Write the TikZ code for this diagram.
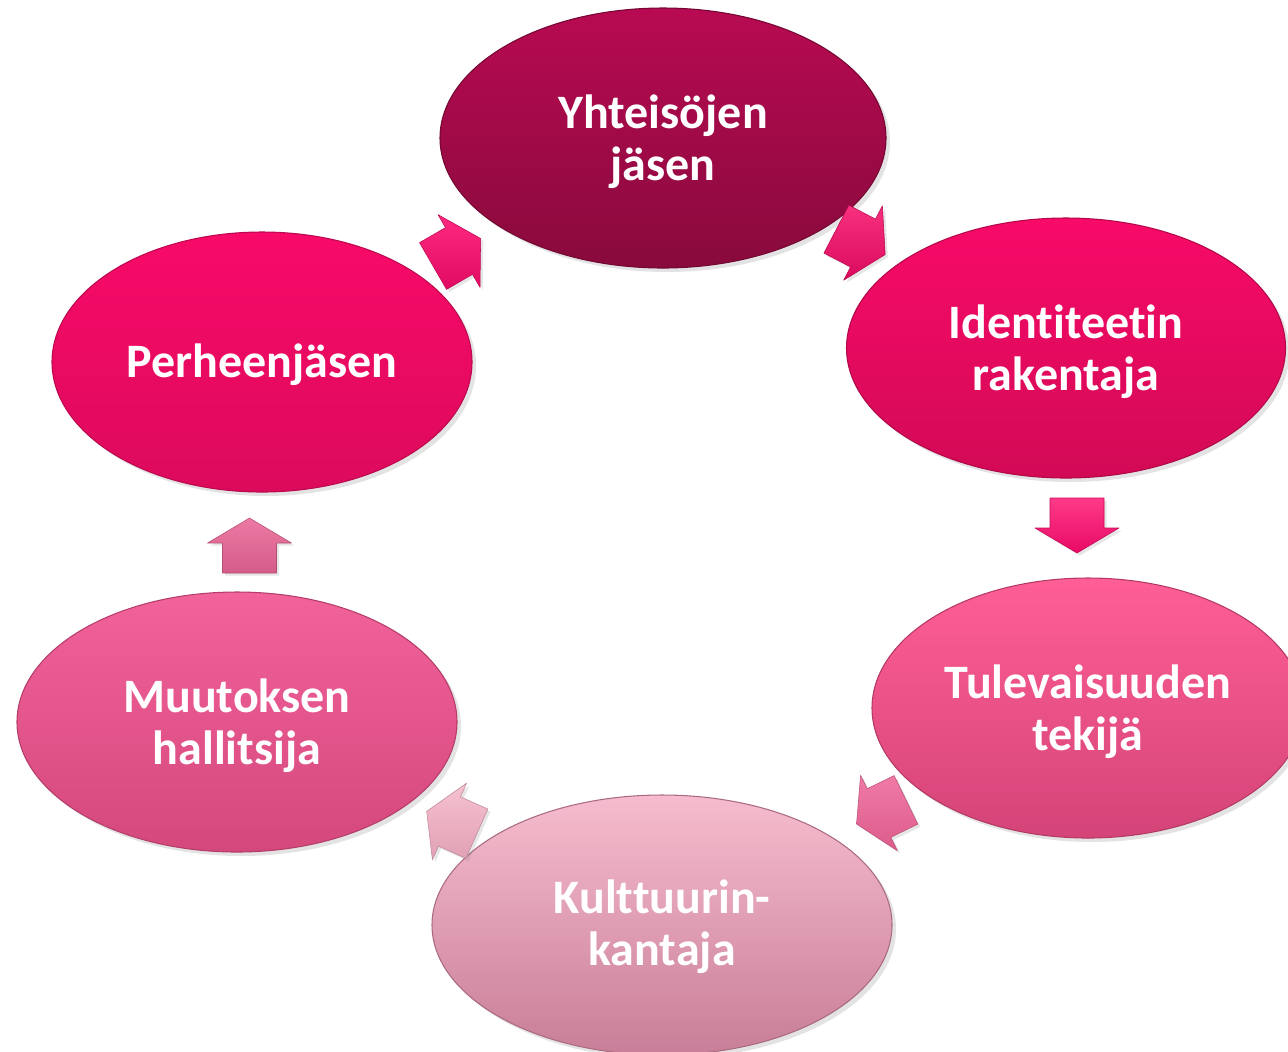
\documentclass[tikz,border=0pt]{standalone}
\usepackage{fontspec}
\setmainfont{Carlito}[Ligatures=NoCommon]
\usetikzlibrary{shapes.geometric,shadows}
\definecolor{cAtop}{HTML}{B80A52}\definecolor{cAbot}{HTML}{880A3C}
\definecolor{cBtop}{HTML}{F80A68}\definecolor{cBbot}{HTML}{D20A56}
\definecolor{cCtop}{HTML}{FF5E96}\definecolor{cCbot}{HTML}{D44478}
\definecolor{cDtop}{HTML}{F6BCCE}\definecolor{cDbot}{HTML}{C87E98}
\definecolor{cEtop}{HTML}{F2629B}\definecolor{cEbot}{HTML}{D4487C}
\definecolor{cFtop}{HTML}{F80A68}\definecolor{cFbot}{HTML}{DC0A5C}
\definecolor{aAtop}{HTML}{FF2A80}\definecolor{aAbot}{HTML}{E00A62}
\definecolor{aBtop}{HTML}{F8307E}\definecolor{aBbot}{HTML}{DA0A5E}
\definecolor{aCtop}{HTML}{FF3A88}\definecolor{aCbot}{HTML}{E80A66}
\definecolor{aDtop}{HTML}{F07AA6}\definecolor{aDbot}{HTML}{DC5C8C}
\definecolor{aEtop}{HTML}{F6C2D0}\definecolor{aEbot}{HTML}{E0A0B4}
\definecolor{aFtop}{HTML}{EC7AA4}\definecolor{aFbot}{HTML}{D45C88}
\newcommand\blockarrow[5]{%
  \shade[shift={(#1,#2)},rotate=#3,top color=#4,bottom color=#5,
    draw=#5!85!black,line width=0.4pt,line join=round,
    drop shadow={shadow xshift=2pt,shadow yshift=-2pt,opacity=0.2}]
    (-30,-27) -- (0,-27) -- (0,-42) -- (25,0) -- (0,42) -- (0,27) -- (-30,27) -- cycle;}
\begin{document}
\begin{tikzpicture}[x=0.75pt,y=-0.75pt,
  bubble/.style n args={4}{ellipse,inner sep=0pt,
    minimum width=#1*0.75pt,minimum height=#2*0.75pt,
    top color=#3,bottom color=#4,draw=#4!85!black,line width=0.8pt,
    drop shadow={shadow xshift=3pt,shadow yshift=-3pt,opacity=0.22}},
  txt/.style={text=white,align=center,inner sep=0pt,
    font=\bfseries\fontsize{36}{39}\selectfont}]
\path[use as bounding box,clip] (0,0) rectangle (1288,1051);
\node[bubble={446}{260}{cAtop}{cAbot}] (yht) at (663,138) {};
\node[bubble={439}{260}{cBtop}{cBbot}] (ide) at (1066,348) {};
\node[bubble={432}{260}{cCtop}{cCbot}] (tul) at (1088,708) {};
\node[bubble={460}{260}{cDtop}{cDbot}] (kul) at (662,925) {};
\node[bubble={440}{260}{cEtop}{cEbot}] (muu) at (237,722) {};
\node[bubble={420}{260}{cFtop}{cFbot}] (per) at (262,362) {};
\node[txt] (yhtT) at ([yshift=-3pt]yht.center) {Yhteisöjen\\jäsen};
\node[txt] (ideT) at ([yshift=-3pt]ide.center) {Identiteetin\\rakentaja};
\node[txt] (tulT) at ([yshift=-3pt]tul.center) {Tulevaisuuden\\tekijä};
\node[txt] (kulT) at ([yshift=-1.5pt]kul.center) {Kulttuurin-\\kantaja};
\node[txt] (muuT) at ([yshift=-3pt]muu.center) {Muutoksen\\hallitsija};
\node[txt] (perT) at ([yshift=-2pt]per.center) {Perheenjäsen};
\blockarrow{459}{251}{30}{aAtop}{aAbot}
\blockarrow{863}{243}{-27.5}{aBtop}{aBbot}
\blockarrow{1077}{528}{-90}{aCtop}{aCbot}
\blockarrow{879}{813}{-154}{aDtop}{aDbot}
\blockarrow{449.5}{821.5}{156}{aEtop}{aEbot}
\blockarrow{249.5}{543}{90}{aFtop}{aFbot}
\end{tikzpicture}
\end{document}
